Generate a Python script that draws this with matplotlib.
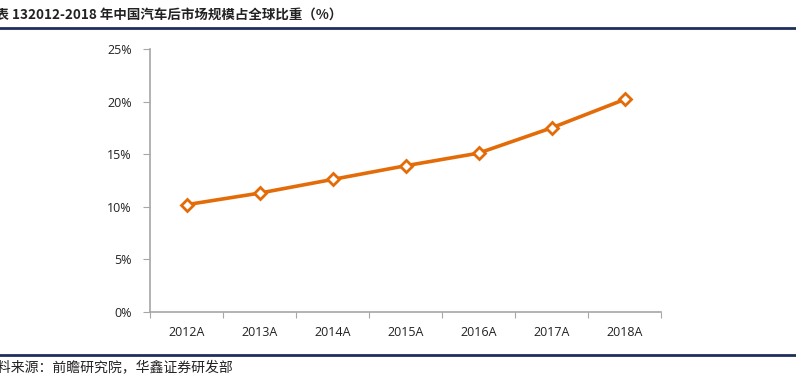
import matplotlib
matplotlib.use('Agg')
import matplotlib.pyplot as plt
from matplotlib.ticker import FuncFormatter

plt.rcParams['font.family'] = ['Noto Sans CJK SC', 'DejaVu Sans']

years = ['2012A', '2013A', '2014A', '2015A', '2016A', '2017A', '2018A']
share = [10.2, 11.3, 12.6, 13.9, 15.1, 17.5, 20.2]
title = '图表 132012-2018 年中国汽车后市场规模占全球比重（%）'
source = '资料来源：前瞻研究院，华鑫证券研发部'

W, H = 796, 376
fig = plt.figure(figsize=(W / 100, H / 100), dpi=100)
ax = fig.add_axes([150 / W, 64 / H, 511 / W, 263 / H])

x = range(len(years))
ax.plot(x, share, color='#E36C09', lw=2.6, marker='D', ms=6.5,
        mfc='white', mec='#E36C09', mew=2, zorder=3)

ax.set_xlim(-0.5, len(years) - 0.5)
ax.set_ylim(0, 25)
ax.set_yticks([0, 5, 10, 15, 20, 25])
ax.yaxis.set_major_formatter(FuncFormatter(lambda v, p: '%d%%' % v))
# category boundaries carry the tick marks, labels sit in between
ax.set_xticks([i - 0.5 for i in range(len(years) + 1)], minor=False)
ax.set_xticklabels([])
ax.set_xticks(list(x), minor=True)
ax.set_xticklabels(years, minor=True)
ax.tick_params(axis='x', which='minor', length=0, pad=10)
ax.tick_params(axis='x', which='major', length=4, color='#A6A6A6', direction='out')
ax.tick_params(axis='y', length=5, color='#A6A6A6', direction='out', pad=8)
for lab in ax.get_xticklabels(minor=True) + ax.get_yticklabels():
    lab.set_family(['Open Sans', 'DejaVu Sans'])
    lab.set_fontsize(9)
    lab.set_color('#222222')

for s in ['top', 'right']:
    ax.spines[s].set_visible(False)
for s in ['left', 'bottom']:
    ax.spines[s].set_color('#A6A6A6')
    ax.spines[s].set_linewidth(1.2)

# header / footer rules
fig.add_artist(plt.Line2D([0, 1], [1 - 28 / H, 1 - 28 / H], color='#1F2F5C', lw=2))
fig.add_artist(plt.Line2D([0, 1], [1 - 355 / H, 1 - 355 / H], color='#1F2F5C', lw=2))

fig.text(-18 / W, 1 - 15 / H, title, fontsize=9.7, fontweight='bold',
         color='#222222', va='center', ha='left')
fig.text(-17 / W, 1 - 367 / H, source, fontsize=10, color='#222222',
         va='center', ha='left')

fig.savefig('out.png', dpi=100)
